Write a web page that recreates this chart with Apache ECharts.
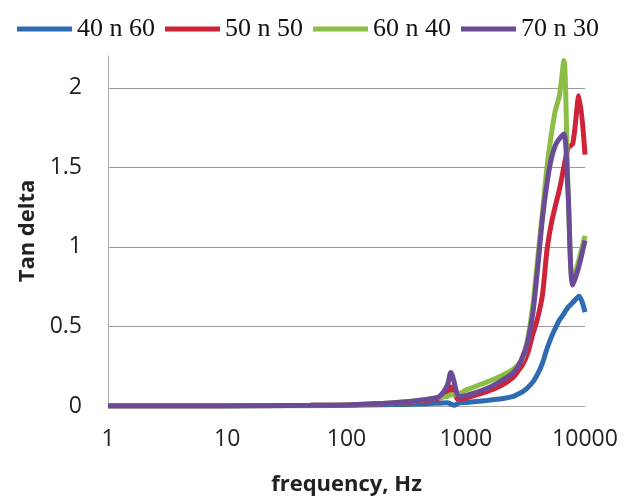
<!DOCTYPE html>
<html>
<head>
<meta charset="utf-8">
<script src="https://cdn.jsdelivr.net/npm/echarts@6/dist/echarts.min.js"></script>
<style>
  html, body { margin: 0; padding: 0; background: #fff; }
  #chart { width: 636px; height: 496px; }
</style>
</head>
<body>
<div id="chart"></div>
<script>
// frequency, Hz (log axis)
const freqs = [1, 2, 5, 10, 20, 50, 100, 200, 300, 400, 500, 600, 700, 750, 800, 850, 900,
  1000, 1500, 2000, 2500, 2750, 3000, 3300, 3650, 4000, 4400, 4800, 5200, 5650, 6100, 6650,
  7200, 7900, 8900, 10000]

// tan delta for each sample
const s40n60 = [0, 0, 0, 0, 0.001, 0.002, 0.004, 0.008, 0.01, 0.012, 0.015, 0.018, 0.02, 0.012, 0.004, 0.015, 0.02,
  0.022, 0.035, 0.045, 0.06, 0.075, 0.09, 0.115, 0.15, 0.2, 0.27, 0.36, 0.43, 0.49, 0.54, 0.58,
  0.62, 0.65, 0.69, 0.59]
const s50n50 = [0, 0, 0, 0, 0.002, 0.004, 0.007, 0.014, 0.022, 0.03, 0.038, 0.05, 0.075, 0.12, 0.08, 0.045, 0.042,
  0.05, 0.09, 0.13, 0.18, 0.22, 0.26, 0.33, 0.45, 0.55, 0.7, 0.98, 1.14, 1.26, 1.36, 1.5,
  1.62, 1.65, 1.95, 1.58]
const s60n40 = [0, 0, 0, 0, 0.002, 0.004, 0.007, 0.015, 0.025, 0.035, 0.045, 0.055, 0.06, 0.07, 0.07, 0.075, 0.08,
  0.1, 0.15, 0.19, 0.23, 0.26, 0.3, 0.42, 0.63, 0.92, 1.22, 1.5, 1.7, 1.86, 1.95, 2.17,
  1.38, 0.78, 0.92, 1.07]
const s70n30 = [0, 0, 0, 0, 0.002, 0.004, 0.007, 0.015, 0.025, 0.035, 0.045, 0.06, 0.13, 0.21, 0.15, 0.07, 0.06,
  0.065, 0.11, 0.16, 0.21, 0.25, 0.31, 0.4, 0.58, 0.86, 1.18, 1.4, 1.55, 1.64, 1.68, 1.71,
  1.35, 0.76, 0.88, 1.04]

const names = ['40 n 60', '50 n 50', '60 n 40', '70 n 30']
const colors = ['#2f6bb3', '#cf2339', '#8cbd45', '#6b4a96']
const values = [s40n60, s50n50, s60n40, s70n30]

const labelFont = { fontFamily: 'Open Sans', fontSize: 23, color: '#222' }
const titleFont = { fontFamily: 'Open Sans', fontSize: 22, fontWeight: 'bold', color: '#222' }

const chart = echarts.init(document.getElementById('chart'))

const option = {
  animation: false,
  color: colors,
  legend: {
    left: 12,
    top: 11,
    itemWidth: 55,
    itemHeight: 5,
    itemGap: 10,
    icon: 'rect',
    textStyle: { fontFamily: 'Liberation Serif', fontSize: 26, color: '#111' },
    data: names
  },
  grid: { left: 108, right: 51, top: 56, bottom: 90, outerBoundsMode: 'none' },
  xAxis: {
    type: 'log',
    logBase: 10,
    min: 1,
    max: 10000,
    name: 'frequency, Hz',
    nameLocation: 'middle',
    nameGap: 68,
    nameTextStyle: titleFont,
    axisLine: { lineStyle: { color: '#aaa', width: 1 } },
    axisTick: { show: false },
    splitLine: { show: false },
    axisLabel: Object.assign({ margin: 22, formatter: v => String(Math.round(v)) }, labelFont)
  },
  yAxis: {
    type: 'value',
    min: 0,
    max: 2.2,
    interval: 0.5,
    name: 'Tan delta',
    nameLocation: 'middle',
    nameGap: 66,
    nameTextStyle: titleFont,
    axisLine: { show: true, lineStyle: { color: '#aaa', width: 1 } },
    axisTick: { show: false },
    splitLine: { showMaxLine: false, lineStyle: { color: '#999', width: 1 } },
    axisLabel: Object.assign({
      margin: 26,
      showMaxLabel: false,
      formatter: v => (Math.abs(v * 2 - Math.round(v * 2)) < 1e-6 ? String(v) : '')
    }, labelFont)
  },
  series: names.map((n, k) => ({
    name: n,
    type: 'line',
    smooth: 0.3,
    showSymbol: false,
    lineStyle: { width: 5, color: colors[k] },
    data: freqs.map((f, i) => [f, values[k][i]])
  }))
}

chart.setOption(option)
</script>
</body>
</html>
